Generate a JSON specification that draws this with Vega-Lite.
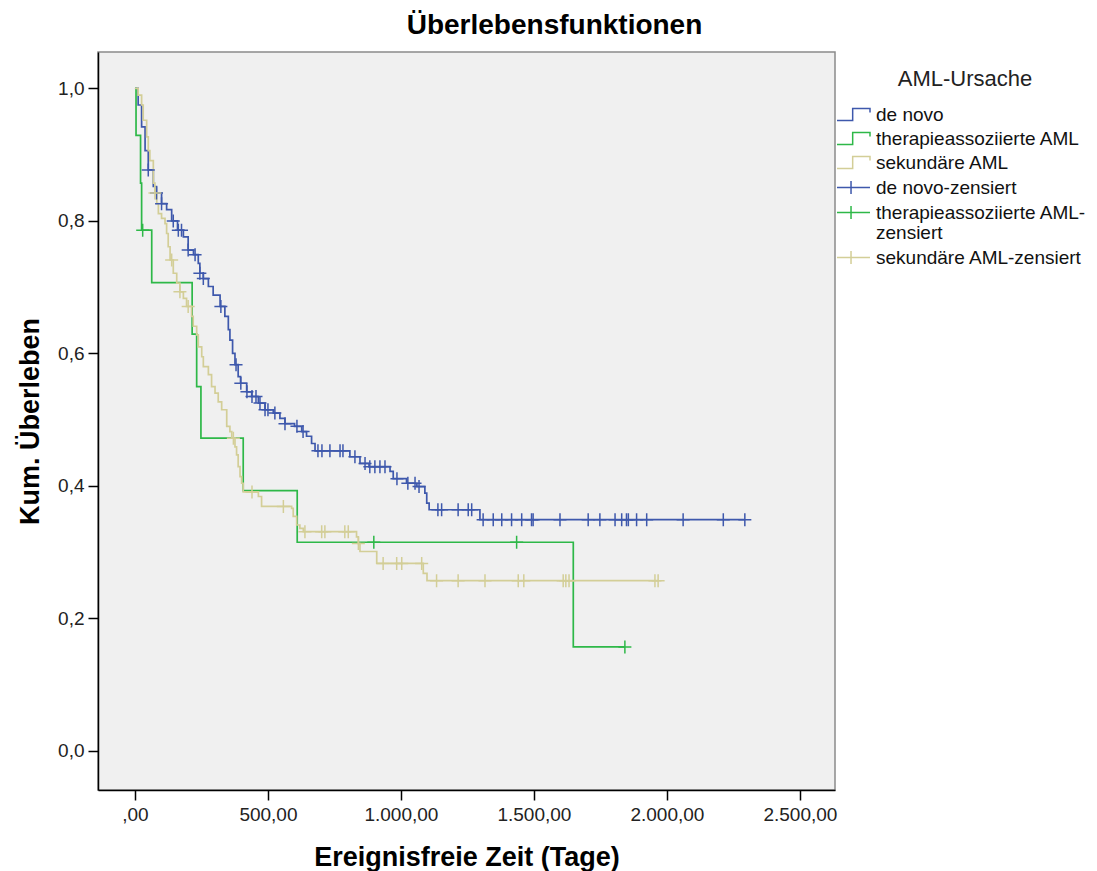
{
  "$schema": "https://vega.github.io/schema/vega-lite/v6.json",
  "width": 737,
  "height": 738,
  "autosize": {"type": "none"},
  "padding": {"left": 98, "top": 52, "right": 262, "bottom": 81},
  "background": "white",
  "config": {
    "font": "Liberation Sans",
    "view": {"fill": "#f0f0f0", "stroke": "#8a8a8a", "strokeWidth": 1.5},
    "axis": {"domainColor": "#000", "domainWidth": 1.5, "tickColor": "#000", "tickWidth": 1.5, "tickSize": 10, "labelFont": "Liberation Sans", "labelFontSize": 19, "labelColor": "#222", "titleFont": "Liberation Sans", "titleFontSize": 27, "titleFontWeight": "bold", "titleColor": "#000", "grid": false}
  },
  "title": {"text": "Überlebensfunktionen", "fontSize": 28, "fontWeight": "bold", "font": "Liberation Sans", "color": "#000", "anchor": "middle", "dx": 88, "offset": 12},
  "data": {"values": [
    {"g":"de novo","t":0,"s":1,"c":0},{"g":"de novo","t":12,"s":0.975,"c":0},{"g":"de novo","t":25,"s":0.942,"c":0},{"g":"de novo","t":38,"s":0.906,"c":0},{"g":"de novo","t":50,"s":0.877,"c":0},{"g":"de novo","t":69,"s":0.852,"c":0},{"g":"de novo","t":81,"s":0.842,"c":0},{"g":"de novo","t":100,"s":0.826,"c":0},{"g":"de novo","t":119,"s":0.817,"c":0},{"g":"de novo","t":138,"s":0.8,"c":0},{"g":"de novo","t":160,"s":0.786,"c":0},{"g":"de novo","t":182,"s":0.776,"c":0},{"g":"de novo","t":200,"s":0.756,"c":0},{"g":"de novo","t":220,"s":0.749,"c":0},{"g":"de novo","t":238,"s":0.736,"c":0},{"g":"de novo","t":244,"s":0.721,"c":0},{"g":"de novo","t":257,"s":0.713,"c":0},{"g":"de novo","t":276,"s":0.701,"c":0},{"g":"de novo","t":294,"s":0.688,"c":0},{"g":"de novo","t":320,"s":0.671,"c":0},{"g":"de novo","t":338,"s":0.656,"c":0},{"g":"de novo","t":351,"s":0.636,"c":0},{"g":"de novo","t":357,"s":0.62,"c":0},{"g":"de novo","t":367,"s":0.6,"c":0},{"g":"de novo","t":376,"s":0.583,"c":0},{"g":"de novo","t":388,"s":0.565,"c":0},{"g":"de novo","t":397,"s":0.555,"c":0},{"g":"de novo","t":420,"s":0.542,"c":0},{"g":"de novo","t":439,"s":0.535,"c":0},{"g":"de novo","t":464,"s":0.525,"c":0},{"g":"de novo","t":489,"s":0.515,"c":0},{"g":"de novo","t":520,"s":0.51,"c":0},{"g":"de novo","t":545,"s":0.502,"c":0},{"g":"de novo","t":564,"s":0.494,"c":0},{"g":"de novo","t":600,"s":0.49,"c":0},{"g":"de novo","t":627,"s":0.482,"c":0},{"g":"de novo","t":645,"s":0.475,"c":0},{"g":"de novo","t":664,"s":0.464,"c":0},{"g":"de novo","t":677,"s":0.453,"c":0},{"g":"de novo","t":808,"s":0.444,"c":0},{"g":"de novo","t":846,"s":0.434,"c":0},{"g":"de novo","t":880,"s":0.429,"c":0},{"g":"de novo","t":959,"s":0.422,"c":0},{"g":"de novo","t":971,"s":0.411,"c":0},{"g":"de novo","t":1021,"s":0.404,"c":0},{"g":"de novo","t":1060,"s":0.399,"c":0},{"g":"de novo","t":1090,"s":0.389,"c":0},{"g":"de novo","t":1097,"s":0.374,"c":0},{"g":"de novo","t":1106,"s":0.364,"c":0},{"g":"de novo","t":1297,"s":0.349,"c":0},{"g":"de novo","t":2293,"s":0.349,"c":0},
    {"g":"de novo-zensiert","t":50,"s":0.877,"c":1},{"g":"de novo-zensiert","t":81,"s":0.842,"c":1},{"g":"de novo-zensiert","t":100,"s":0.826,"c":1},{"g":"de novo-zensiert","t":144,"s":0.8,"c":1},{"g":"de novo-zensiert","t":163,"s":0.786,"c":1},{"g":"de novo-zensiert","t":175,"s":0.786,"c":1},{"g":"de novo-zensiert","t":200,"s":0.756,"c":1},{"g":"de novo-zensiert","t":226,"s":0.749,"c":1},{"g":"de novo-zensiert","t":244,"s":0.721,"c":1},{"g":"de novo-zensiert","t":257,"s":0.713,"c":1},{"g":"de novo-zensiert","t":323,"s":0.671,"c":1},{"g":"de novo-zensiert","t":380,"s":0.583,"c":1},{"g":"de novo-zensiert","t":398,"s":0.555,"c":1},{"g":"de novo-zensiert","t":421,"s":0.542,"c":1},{"g":"de novo-zensiert","t":440,"s":0.535,"c":1},{"g":"de novo-zensiert","t":455,"s":0.535,"c":1},{"g":"de novo-zensiert","t":470,"s":0.525,"c":1},{"g":"de novo-zensiert","t":489,"s":0.515,"c":1},{"g":"de novo-zensiert","t":500,"s":0.515,"c":1},{"g":"de novo-zensiert","t":526,"s":0.51,"c":1},{"g":"de novo-zensiert","t":564,"s":0.494,"c":1},{"g":"de novo-zensiert","t":609,"s":0.49,"c":1},{"g":"de novo-zensiert","t":632,"s":0.482,"c":1},{"g":"de novo-zensiert","t":688,"s":0.453,"c":1},{"g":"de novo-zensiert","t":703,"s":0.453,"c":1},{"g":"de novo-zensiert","t":733,"s":0.453,"c":1},{"g":"de novo-zensiert","t":771,"s":0.453,"c":1},{"g":"de novo-zensiert","t":782,"s":0.453,"c":1},{"g":"de novo-zensiert","t":827,"s":0.444,"c":1},{"g":"de novo-zensiert","t":865,"s":0.434,"c":1},{"g":"de novo-zensiert","t":883,"s":0.429,"c":1},{"g":"de novo-zensiert","t":902,"s":0.429,"c":1},{"g":"de novo-zensiert","t":921,"s":0.429,"c":1},{"g":"de novo-zensiert","t":940,"s":0.429,"c":1},{"g":"de novo-zensiert","t":985,"s":0.411,"c":1},{"g":"de novo-zensiert","t":1026,"s":0.404,"c":1},{"g":"de novo-zensiert","t":1053,"s":0.404,"c":1},{"g":"de novo-zensiert","t":1068,"s":0.399,"c":1},{"g":"de novo-zensiert","t":1139,"s":0.364,"c":1},{"g":"de novo-zensiert","t":1153,"s":0.364,"c":1},{"g":"de novo-zensiert","t":1215,"s":0.364,"c":1},{"g":"de novo-zensiert","t":1253,"s":0.364,"c":1},{"g":"de novo-zensiert","t":1266,"s":0.364,"c":1},{"g":"de novo-zensiert","t":1309,"s":0.349,"c":1},{"g":"de novo-zensiert","t":1347,"s":0.349,"c":1},{"g":"de novo-zensiert","t":1379,"s":0.349,"c":1},{"g":"de novo-zensiert","t":1416,"s":0.349,"c":1},{"g":"de novo-zensiert","t":1454,"s":0.349,"c":1},{"g":"de novo-zensiert","t":1491,"s":0.349,"c":1},{"g":"de novo-zensiert","t":1497,"s":0.349,"c":1},{"g":"de novo-zensiert","t":1598,"s":0.349,"c":1},{"g":"de novo-zensiert","t":1704,"s":0.349,"c":1},{"g":"de novo-zensiert","t":1748,"s":0.349,"c":1},{"g":"de novo-zensiert","t":1805,"s":0.349,"c":1},{"g":"de novo-zensiert","t":1830,"s":0.349,"c":1},{"g":"de novo-zensiert","t":1848,"s":0.349,"c":1},{"g":"de novo-zensiert","t":1855,"s":0.349,"c":1},{"g":"de novo-zensiert","t":1886,"s":0.349,"c":1},{"g":"de novo-zensiert","t":1924,"s":0.349,"c":1},{"g":"de novo-zensiert","t":2061,"s":0.349,"c":1},{"g":"de novo-zensiert","t":2212,"s":0.349,"c":1},{"g":"de novo-zensiert","t":2293,"s":0.349,"c":1},
    {"g":"therapieassoziierte AML","t":0,"s":1,"c":0},{"g":"therapieassoziierte AML","t":4,"s":0.929,"c":0},{"g":"therapieassoziierte AML","t":21,"s":0.857,"c":0},{"g":"therapieassoziierte AML","t":25,"s":0.786,"c":0},{"g":"therapieassoziierte AML","t":63,"s":0.707,"c":0},{"g":"therapieassoziierte AML","t":215,"s":0.629,"c":0},{"g":"therapieassoziierte AML","t":232,"s":0.55,"c":0},{"g":"therapieassoziierte AML","t":248,"s":0.472,"c":0},{"g":"therapieassoziierte AML","t":407,"s":0.393,"c":0},{"g":"therapieassoziierte AML","t":610,"s":0.315,"c":0},{"g":"therapieassoziierte AML","t":1648,"s":0.157,"c":0},{"g":"therapieassoziierte AML","t":1842,"s":0.157,"c":0},
    {"g":"therapieassoziierte AML-zensiert","t":29,"s":0.786,"c":1},{"g":"therapieassoziierte AML-zensiert","t":898,"s":0.315,"c":1},{"g":"therapieassoziierte AML-zensiert","t":1435,"s":0.315,"c":1},{"g":"therapieassoziierte AML-zensiert","t":1842,"s":0.157,"c":1},
    {"g":"sekundäre AML","t":0,"s":1,"c":0},{"g":"sekundäre AML","t":12,"s":0.99,"c":0},{"g":"sekundäre AML","t":25,"s":0.975,"c":0},{"g":"sekundäre AML","t":31,"s":0.952,"c":0},{"g":"sekundäre AML","t":44,"s":0.927,"c":0},{"g":"sekundäre AML","t":50,"s":0.906,"c":0},{"g":"sekundäre AML","t":56,"s":0.891,"c":0},{"g":"sekundäre AML","t":69,"s":0.857,"c":0},{"g":"sekundäre AML","t":75,"s":0.842,"c":0},{"g":"sekundäre AML","t":82,"s":0.826,"c":0},{"g":"sekundäre AML","t":88,"s":0.811,"c":0},{"g":"sekundäre AML","t":100,"s":0.804,"c":0},{"g":"sekundäre AML","t":113,"s":0.796,"c":0},{"g":"sekundäre AML","t":119,"s":0.781,"c":0},{"g":"sekundäre AML","t":125,"s":0.761,"c":0},{"g":"sekundäre AML","t":132,"s":0.741,"c":0},{"g":"sekundäre AML","t":144,"s":0.721,"c":0},{"g":"sekundäre AML","t":157,"s":0.706,"c":0},{"g":"sekundäre AML","t":169,"s":0.693,"c":0},{"g":"sekundäre AML","t":182,"s":0.683,"c":0},{"g":"sekundäre AML","t":194,"s":0.671,"c":0},{"g":"sekundäre AML","t":213,"s":0.656,"c":0},{"g":"sekundäre AML","t":219,"s":0.641,"c":0},{"g":"sekundäre AML","t":232,"s":0.628,"c":0},{"g":"sekundäre AML","t":238,"s":0.61,"c":0},{"g":"sekundäre AML","t":251,"s":0.595,"c":0},{"g":"sekundäre AML","t":257,"s":0.58,"c":0},{"g":"sekundäre AML","t":276,"s":0.568,"c":0},{"g":"sekundäre AML","t":288,"s":0.55,"c":0},{"g":"sekundäre AML","t":301,"s":0.54,"c":0},{"g":"sekundäre AML","t":313,"s":0.527,"c":0},{"g":"sekundäre AML","t":326,"s":0.515,"c":0},{"g":"sekundäre AML","t":345,"s":0.49,"c":0},{"g":"sekundäre AML","t":357,"s":0.482,"c":0},{"g":"sekundäre AML","t":364,"s":0.472,"c":0},{"g":"sekundäre AML","t":376,"s":0.459,"c":0},{"g":"sekundäre AML","t":382,"s":0.447,"c":0},{"g":"sekundäre AML","t":388,"s":0.429,"c":0},{"g":"sekundäre AML","t":395,"s":0.414,"c":0},{"g":"sekundäre AML","t":401,"s":0.404,"c":0},{"g":"sekundäre AML","t":407,"s":0.391,"c":0},{"g":"sekundäre AML","t":464,"s":0.384,"c":0},{"g":"sekundäre AML","t":476,"s":0.369,"c":0},{"g":"sekundäre AML","t":589,"s":0.366,"c":0},{"g":"sekundäre AML","t":595,"s":0.354,"c":0},{"g":"sekundäre AML","t":608,"s":0.341,"c":0},{"g":"sekundäre AML","t":620,"s":0.336,"c":0},{"g":"sekundäre AML","t":633,"s":0.331,"c":0},{"g":"sekundäre AML","t":833,"s":0.323,"c":0},{"g":"sekundäre AML","t":840,"s":0.313,"c":0},{"g":"sekundäre AML","t":846,"s":0.301,"c":0},{"g":"sekundäre AML","t":909,"s":0.283,"c":0},{"g":"sekundäre AML","t":1084,"s":0.268,"c":0},{"g":"sekundäre AML","t":1098,"s":0.257,"c":0},{"g":"sekundäre AML","t":1967,"s":0.257,"c":0},
    {"g":"sekundäre AML-zensiert","t":75,"s":0.842,"c":1},{"g":"sekundäre AML-zensiert","t":138,"s":0.741,"c":1},{"g":"sekundäre AML-zensiert","t":169,"s":0.693,"c":1},{"g":"sekundäre AML-zensiert","t":200,"s":0.671,"c":1},{"g":"sekundäre AML-zensiert","t":370,"s":0.472,"c":1},{"g":"sekundäre AML-zensiert","t":440,"s":0.391,"c":1},{"g":"sekundäre AML-zensiert","t":558,"s":0.369,"c":1},{"g":"sekundäre AML-zensiert","t":639,"s":0.331,"c":1},{"g":"sekundäre AML-zensiert","t":702,"s":0.331,"c":1},{"g":"sekundäre AML-zensiert","t":714,"s":0.331,"c":1},{"g":"sekundäre AML-zensiert","t":789,"s":0.331,"c":1},{"g":"sekundäre AML-zensiert","t":802,"s":0.331,"c":1},{"g":"sekundäre AML-zensiert","t":840,"s":0.313,"c":1},{"g":"sekundäre AML-zensiert","t":933,"s":0.283,"c":1},{"g":"sekundäre AML-zensiert","t":984,"s":0.283,"c":1},{"g":"sekundäre AML-zensiert","t":1003,"s":0.283,"c":1},{"g":"sekundäre AML-zensiert","t":1078,"s":0.283,"c":1},{"g":"sekundäre AML-zensiert","t":1134,"s":0.257,"c":1},{"g":"sekundäre AML-zensiert","t":1215,"s":0.257,"c":1},{"g":"sekundäre AML-zensiert","t":1316,"s":0.257,"c":1},{"g":"sekundäre AML-zensiert","t":1441,"s":0.257,"c":1},{"g":"sekundäre AML-zensiert","t":1462,"s":0.257,"c":1},{"g":"sekundäre AML-zensiert","t":1610,"s":0.257,"c":1},{"g":"sekundäre AML-zensiert","t":1620,"s":0.257,"c":1},{"g":"sekundäre AML-zensiert","t":1632,"s":0.257,"c":1},{"g":"sekundäre AML-zensiert","t":1955,"s":0.257,"c":1},{"g":"sekundäre AML-zensiert","t":1967,"s":0.257,"c":1}
  ]},
  "encoding": {
    "x": {"field": "t", "type": "quantitative", "scale": {"domain": [-139, 2632], "nice": false, "zero": false},
      "axis": {"values": [0, 500, 1000, 1500, 2000, 2500], "title": "Ereignisfreie Zeit (Tage)", "labelExpr": "datum.value == 0 ? ',00' : replace(replace(replace(format(datum.value, ',.2f'), ',', '#'), '.', ','), '#', '.')", "titleY": 67, "titleBaseline": "middle", "labelPadding": 5}},
    "y": {"field": "s", "type": "quantitative", "scale": {"domain": [-0.059, 1.055], "nice": false, "zero": false},
      "axis": {"values": [0, 0.2, 0.4, 0.6, 0.8, 1], "title": "Kum. Überleben", "labelExpr": "replace(format(datum.value, '.1f'), '.', ',')", "titleX": -68, "titleBaseline": "middle", "labelPadding": 4}},
    "color": {"field": "g", "type": "nominal",
      "scale": {"domain": ["de novo", "therapieassoziierte AML", "sekundäre AML", "de novo-zensiert", "therapieassoziierte AML-zensiert", "sekundäre AML-zensiert"], "range": ["#3e58ac", "#2eb848", "#d3ce97", "#3e58ac", "#2eb848", "#d3ce97"]},
      "legend": {"title": "AML-Ursache", "orient": "none", "legendX": 746, "legendY": 17, "titleFontSize": 22, "titleFontWeight": "normal", "titleColor": "#222", "titleAnchor": "middle", "titlePadding": 14, "labelFontSize": 19, "labelColor": "#111", "labelLimit": 320, "labelOffset": 13, "symbolSize": 121, "symbolStrokeWidth": 1.5, "rowPadding": 4,
        "labelExpr": "datum.value == 'therapieassoziierte AML-zensiert' ? ['therapieassoziierte AML-', 'zensiert'] : datum.label",
        "encode": {
          "labels": {"update": {"lineHeight": {"value": 20}}},
          "symbols": {"update": {"shape": {"signal": "indexof(datum.value, 'zensiert') >= 0 ? 'M-3,0L3,0M-0.45,-1.2L-0.45,1.2' : 'M-3,1.1L-0.15,1.1L-0.15,-1.1L3,-1.1L3,-0.35'"}, "fill": {"value": "transparent"}, "stroke": {"scale": "color", "field": "value"}, "strokeWidth": {"value": 1.5}}}}}}
  },
  "layer": [
    {"transform": [{"filter": "datum.c == 0"}], "mark": {"type": "line", "interpolate": "step-after", "strokeWidth": 1.7}},
    {"transform": [{"filter": "datum.c == 1"}], "mark": {"type": "point", "shape": "M-1,0L1,0M0,-1L0,1", "size": 169, "strokeWidth": 1.5, "filled": false, "opacity": 1}}
  ]
}
